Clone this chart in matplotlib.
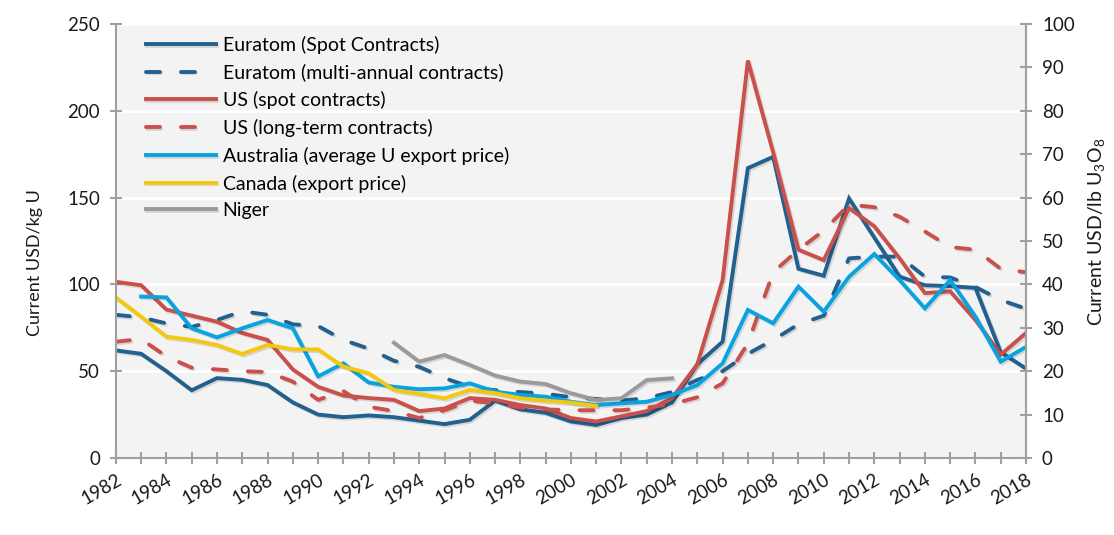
import matplotlib
matplotlib.use('Agg')
import matplotlib.pyplot as plt
import matplotlib.patheffects as pe
import numpy as np

plt.rcParams['font.family'] = ['Lato', 'DejaVu Sans']
plt.rcParams['mathtext.default'] = 'regular'

# Data (USD/kg U)
years = np.arange(1982, 2019)

euratom_spot = [62, 60, 50, 39, 46, 45, 42, 32, 25, 23.5, 24.5, 23.5, 21.5, 19.5, 22, 33,
                28, 26, 21, 19, 23, 25, 32, 54, 67, 167, 173.5, 109, 105, 149.5, 127,
                104.5, 99.5, 99, 98, 61, 51.5]
euratom_multi = [82.5, 81, 77.5, 75.5, 79.5, 84.5, 82.5, 77, 76, 68, 63, 56, 52.5, 46, 41, 39,
                 38, 37, 35, 34, 33, 34.5, 38, 45, 50, 60, 68, 77, 82, 115, 116,
                 116, 104.5, 104, 98.5, 91, 86]
us_spot = [101.5, 99.5, 85.5, 82, 78.5, 72, 68, 51, 41, 36, 34.5, 33.5, 27, 28.5, 34.5, 33.5,
           30.5, 28.5, 23, 21, 24, 27, 34.5, 54, 102.5, 229, 176, 120, 114, 144, 133.5,
           115, 95, 96, 79.5, 59.5, 72]
us_longterm = [67, 68.5, 58.5, 52, 51, 50, 49.5, 44, 33.5, 38.5, 29.5, 27, 23, 27.5, 33, 31.5,
               29, 28, 27.5, 27.5, 27.5, 29, 31, 35, 43, 66, 107, 120, 131, 146, 144.5,
               139, 130.5, 121.5, 120, 109, 107]

australia_years = np.arange(1983, 2019)
australia = [93, 92.5, 74.7, 69.5, 74.7, 79.5, 74.7, 47, 54.5, 43.5, 41, 39.6, 40.1, 43, 38.2,
             36.3, 35.3, 32.4, 30.5, 31.5, 32.4, 36.3, 42, 54.5, 85.3, 77.6, 98.7, 84.3,
             104.4, 117.5, 102.5, 86.2, 102.5, 81.4, 55.5, 64]

canada_years = np.arange(1982, 2002)
canada = [92.5, 81.4, 69.9, 68, 65.1, 59.9, 65.1, 62.6, 62.5, 52.6, 48.8, 39.2, 36.9, 34.4,
          39.2, 37.3, 34.4, 33, 31.9, 30]

niger_years = np.arange(1993, 2005)
niger = [66.4, 55.5, 59.3, 53.6, 47.5, 44, 42.6, 37.3, 33.4, 34.4, 44.9, 45.9]

c_navy = '#22608f'
c_red = '#c9504b'
c_sky = '#09a3e0'
c_yellow = '#f5c810'
c_grey = '#9a9a9a'
axis_grey = '#a0a0a0'
txt = '#1a1a1a'

fig = plt.figure(figsize=(11.14, 5.35), dpi=100)
ax = fig.add_axes([0.104, 0.144, 0.817, 0.811])
ax.set_facecolor('#f3f3f3')

shadow = [pe.SimpleLineShadow(offset=(1.2, -1.2), shadow_color='k', alpha=0.12), pe.Normal()]
lw = 2.8
dash = (3.6, 5.4)

ax.plot(years, euratom_spot, color=c_navy, lw=lw, label='Euratom (Spot Contracts)',
        path_effects=shadow, solid_joinstyle='miter')
ax.plot(years, euratom_multi, color=c_navy, lw=lw, dashes=dash, dash_capstyle='round',
        label='Euratom (multi-annual contracts)', path_effects=shadow)
ax.plot(years, us_spot, color=c_red, lw=lw, label='US (spot contracts)',
        path_effects=shadow, solid_joinstyle='miter')
ax.plot(years, us_longterm, color=c_red, lw=lw, dashes=dash, dash_capstyle='round',
        label='US (long-term contracts)', path_effects=shadow)
ax.plot(australia_years, australia, color=c_sky, lw=lw,
        label='Australia (average U export price)', path_effects=shadow, solid_joinstyle='miter')
ax.plot(canada_years, canada, color=c_yellow, lw=lw, label='Canada (export price)',
        path_effects=shadow, solid_joinstyle='miter')
ax.plot(niger_years, niger, color=c_grey, lw=lw, label='Niger',
        path_effects=shadow, solid_joinstyle='miter')

ax.set_xlim(1982, 2018)
ax.set_ylim(0, 250)
ax.set_yticks(np.arange(0, 251, 50))
ax.set_xticks(years)
ax.set_xticklabels([str(y) if y % 2 == 0 else '' for y in years], rotation=30,
                   ha='right', rotation_mode='anchor')
ax.grid(axis='y', color='white', lw=2)
ax.set_axisbelow(True)

ax.spines['top'].set_visible(False)
for side in ['left', 'right', 'bottom']:
    ax.spines[side].set_color(axis_grey)
    ax.spines[side].set_linewidth(1.5)
ax.tick_params(axis='both', direction='inout', length=9, width=1.5, color=axis_grey,
               labelsize=13.5, labelcolor=txt)
ax.tick_params(axis='y', pad=7)
ax.tick_params(axis='x', pad=5)
ax.set_ylabel('Current USD/kg U', fontsize=13, color=txt)
ax.yaxis.set_label_coords(-0.080, 0.45)

ax2 = ax.twinx()
ax2.set_ylim(0, 100)
ax2.set_yticks(np.arange(0, 101, 10))
for side in ['top', 'left', 'bottom']:
    ax2.spines[side].set_visible(False)
ax2.spines['right'].set_color(axis_grey)
ax2.spines['right'].set_linewidth(1.5)
ax2.tick_params(axis='y', direction='inout', length=9, width=1.5, color=axis_grey,
                labelsize=13.5, labelcolor=txt, pad=7)
ax2.set_ylabel('Current USD/lb U$_3$O$_8$', fontsize=14, color=txt)
ax2.yaxis.set_label_coords(1.066, 0.52)

ax.legend(loc='upper left', bbox_to_anchor=(0.02, 1.0), frameon=False, fontsize=14,
          handlelength=3.6, handletextpad=0.35, labelspacing=0.5, borderaxespad=0.2)

fig.savefig('out.png', dpi=100, facecolor='white')
